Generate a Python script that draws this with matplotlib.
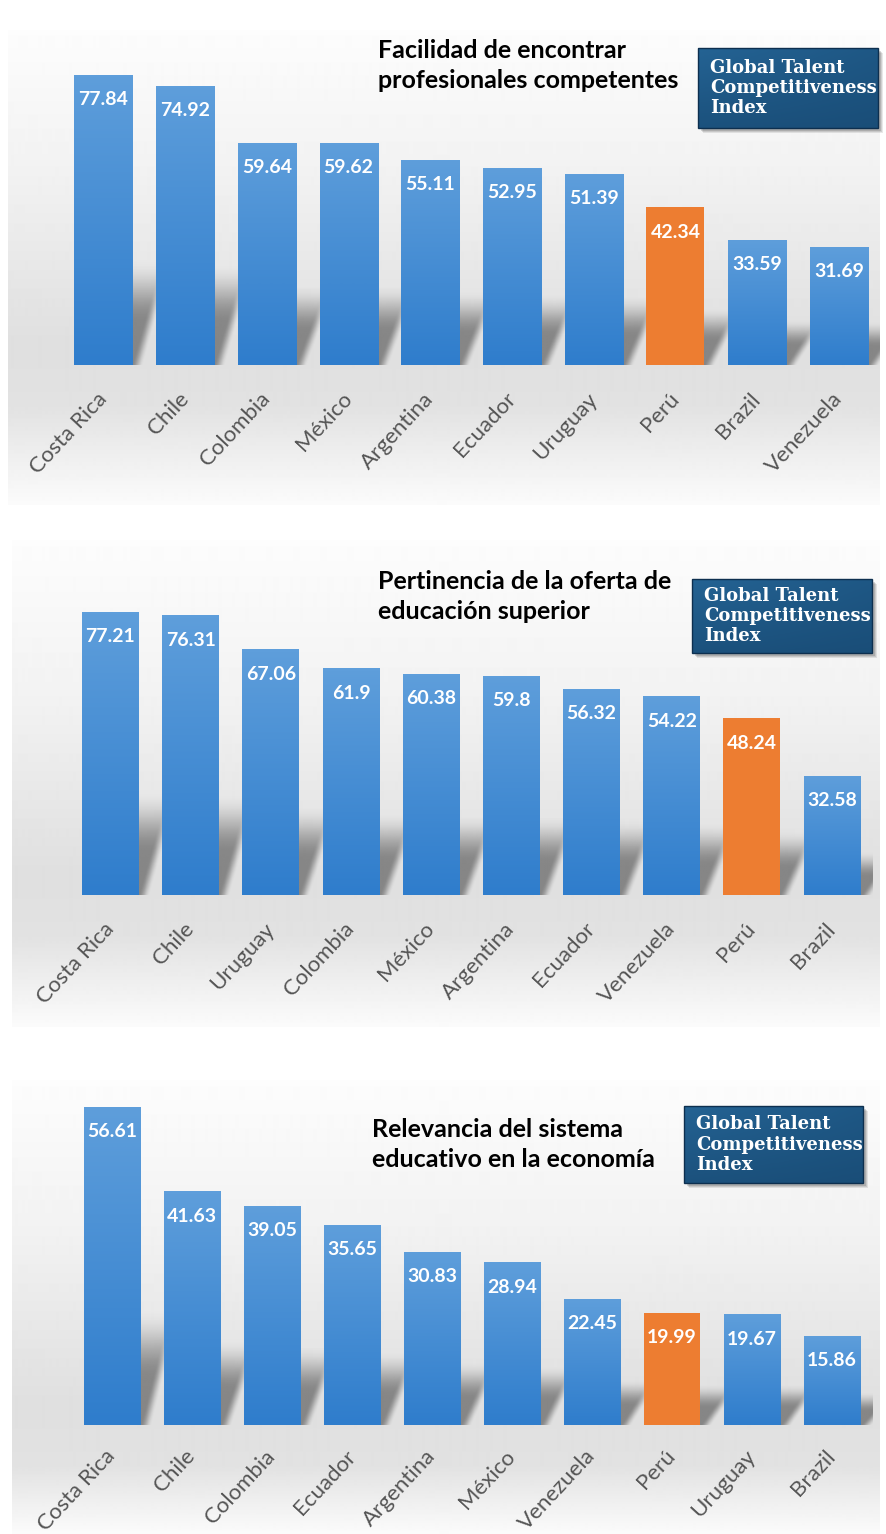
import numpy as np
import matplotlib
matplotlib.use("Agg")
import matplotlib.pyplot as plt
from matplotlib.colors import LinearSegmentedColormap, to_rgb
from matplotlib.patches import Rectangle

# ── data ──────────────────────────────────────────────────────────────────────

countries_1 = ["Costa Rica", "Chile", "Colombia", "México", "Argentina",
               "Ecuador", "Uruguay", "Perú", "Brazil", "Venezuela"]
values_1 = [77.84, 74.92, 59.64, 59.62, 55.11, 52.95, 51.39, 42.34, 33.59, 31.69]
title_1 = "Facilidad de encontrar\nprofesionales competentes"

countries_2 = ["Costa Rica", "Chile", "Uruguay", "Colombia", "México",
               "Argentina", "Ecuador", "Venezuela", "Perú", "Brazil"]
values_2 = [77.21, 76.31, 67.06, 61.9, 60.38, 59.8, 56.32, 54.22, 48.24, 32.58]
title_2 = "Pertinencia de la oferta de\neducación superior"

countries_3 = ["Costa Rica", "Chile", "Colombia", "Ecuador", "Argentina",
               "México", "Venezuela", "Perú", "Uruguay", "Brazil"]
values_3 = [56.61, 41.63, 39.05, 35.65, 30.83, 28.94, 22.45, 19.99, 19.67, 15.86]
title_3 = "Relevancia del sistema\neducativo en la economía"

badge_text = "Global Talent\nCompetitiveness\nIndex"
HIGHLIGHT = "Perú"

# ── styling / layout (pixels) ────────────────────────────────────────────────

W, H = 886, 1534
BLUE_TOP = "#5e9edb"
BLUE_BOT = "#2f7dcc"
ORANGE = "#ed7d31"
LABEL_GRAY = "#555555"
BAR_W = 0.71

# first bar centre, step, baseline, px per unit, axes top, bg box, title xy,
# badge box, tick label pad
LAYOUT = [
    dict(c0=103.5, step=81.7, base=365, ppu=3.726, top=35,
         box=(8, 30, 880, 505), title=(378, 39), badge=(698, 48, 180, 80), pad=22),
    dict(c0=110.5, step=80.17, base=895, ppu=3.666, top=560,
         box=(12, 540, 880, 1027), title=(378, 570), badge=(692, 579, 180, 74), pad=22),
    dict(c0=112.0, step=80.0, base=1425, ppu=5.62, top=1090,
         box=(12, 1080, 880, 1534), title=(372, 1118), badge=(684, 1106, 179, 77), pad=20),
]
PANELS = [(countries_1, values_1, title_1),
          (countries_2, values_2, title_2),
          (countries_3, values_3, title_3)]

bar_cmap = LinearSegmentedColormap.from_list("bar", [BLUE_BOT, BLUE_TOP])
badge_cmap = LinearSegmentedColormap.from_list("badge", ["#123e64", "#2a6fa3"])
gray_cmap = plt.get_cmap("gray")
shadow_rgb = to_rgb("#4a4a4a")


def smoothstep(t):
    t = np.clip(t, 0, 1)
    return t * t * (3 - 2 * t)


fig = plt.figure(figsize=(W / 100, H / 100), dpi=100)
fig.patch.set_facecolor("white")

# background axes in pixel coordinates
bg = fig.add_axes([0, 0, 1, 1], zorder=-1)
bg.set_xlim(0, W)
bg.set_ylim(H, 0)
bg.axis("off")

for lay, (countries, values, title) in zip(LAYOUT, PANELS):
    x0, y0, x1, y1 = lay["box"]
    base = lay["base"]

    # soft gray panel gradient, darkest around the baseline
    rows = np.arange(y0, y1)
    shade = np.interp(rows, [y0, base - 200, base - 20, base + 40, y1],
                      [0.99, 0.95, 0.875, 0.885, 0.985])
    bg.imshow(shade[:, None], cmap=gray_cmap, vmin=0, vmax=1, aspect="auto",
              extent=[x0, x1, y1, y0], interpolation="bilinear", zorder=0)

    # title
    tx, ty = lay["title"]
    bg.text(tx, ty, title, ha="left", va="top", fontsize=18,
            fontweight="bold", family="Lato", color="black",
            linespacing=1.38, zorder=3)

    # badge with drop shadow
    bx, by, bw, bh = lay["badge"]
    for k, a in [(5, 0.12), (4, 0.15), (3, 0.2)]:
        bg.add_patch(Rectangle((bx + k, by + k), bw, bh, facecolor="#444444",
                               edgecolor="none", alpha=a, zorder=2))
    gy, gx = np.mgrid[0:1:40j, 0:1:80j]
    badge_shade = 0.6 - 0.2 * gy - 0.08 * gx + 0.15 * (1 - gy) * (1 - gx)
    bg.imshow(badge_shade, cmap=badge_cmap, vmin=0, vmax=1, aspect="auto",
              extent=[bx, bx + bw, by + bh, by], interpolation="bilinear", zorder=3)
    bg.add_patch(Rectangle((bx, by), bw, bh, facecolor="none",
                           edgecolor="#0d2f4f", linewidth=1.0, zorder=4))
    bg.text(bx + 12, by + bh / 2, badge_text, ha="left", va="center",
            fontsize=13, fontweight="bold", family="DejaVu Serif",
            color="white", linespacing=1.15, zorder=5)

    # bar axes
    left = lay["c0"] - 0.5 * lay["step"]
    width = 10 * lay["step"]
    height = base - lay["top"]
    ymax = height / lay["ppu"]
    ax = fig.add_axes([left / W, (H - base) / H, width / W, height / H])
    ax.patch.set_alpha(0)
    for s in ax.spines.values():
        s.set_visible(False)
    ax.set_yticks([])

    x = np.arange(len(values))
    colors = [ORANGE if c == HIGHLIGHT else BLUE_BOT for c in countries]

    # soft perspective shadows behind the bars
    for i, v in enumerate(values):
        xl, xr = i - BAR_W / 2, i + BAR_W / 2
        hs = 0.27 * v
        lean = 0.38 * BAR_W
        blur = 0.14
        xs = np.linspace(xl, xr + lean + 2 * blur, 120)
        ys = np.linspace(0, hs * 1.35, 120)
        XX, YY = np.meshgrid(xs, ys)
        u = XX - lean * (YY / hs)
        dx = np.maximum(xl - u, 0) + np.maximum(u - xr, 0)
        a = (1 - smoothstep(dx / blur)) * (1 - smoothstep((YY - 0.55 * hs) / (0.8 * hs)))
        rgba = np.zeros(a.shape + (4,))
        rgba[..., :3] = shadow_rgb
        rgba[..., 3] = 0.6 * a
        ax.imshow(rgba, origin="lower", aspect="auto", interpolation="bilinear",
                  extent=[xs[0], xs[-1], 0, ys[-1]], zorder=1)

    bars = ax.bar(x, values, BAR_W, color=colors, edgecolor="none", zorder=2)

    # vertical gradient fill for the blue bars
    grad = np.linspace(1, 0, 64)[:, None]
    for b, c in zip(bars, countries):
        if c == HIGHLIGHT:
            continue
        bx0, bw_, bh_ = b.get_x(), b.get_width(), b.get_height()
        im = ax.imshow(grad, cmap=bar_cmap, vmin=0, vmax=1, aspect="auto",
                       extent=[bx0, bx0 + bw_, 0, bh_], interpolation="bilinear",
                       zorder=2.5)
        im.set_clip_path(b)
    ax.set_xlim(-0.5, len(values) - 0.5)
    ax.set_ylim(0, ymax)

    for i, v in enumerate(values):
        ax.annotate(f"{v:g}", (i, v), xytext=(0, -18), textcoords="offset points",
                    ha="center", va="center", color="white", fontsize=14,
                    fontweight="bold", family="Lato", zorder=4)

    ax.set_xticks(x)
    ax.set_xticklabels(countries, rotation=47, ha="right", va="center",
                       rotation_mode="anchor", fontsize=16, color=LABEL_GRAY,
                       family="Lato")
    ax.tick_params(axis="x", length=0, pad=lay["pad"])

fig.savefig("out.png", dpi=100, facecolor="white")
